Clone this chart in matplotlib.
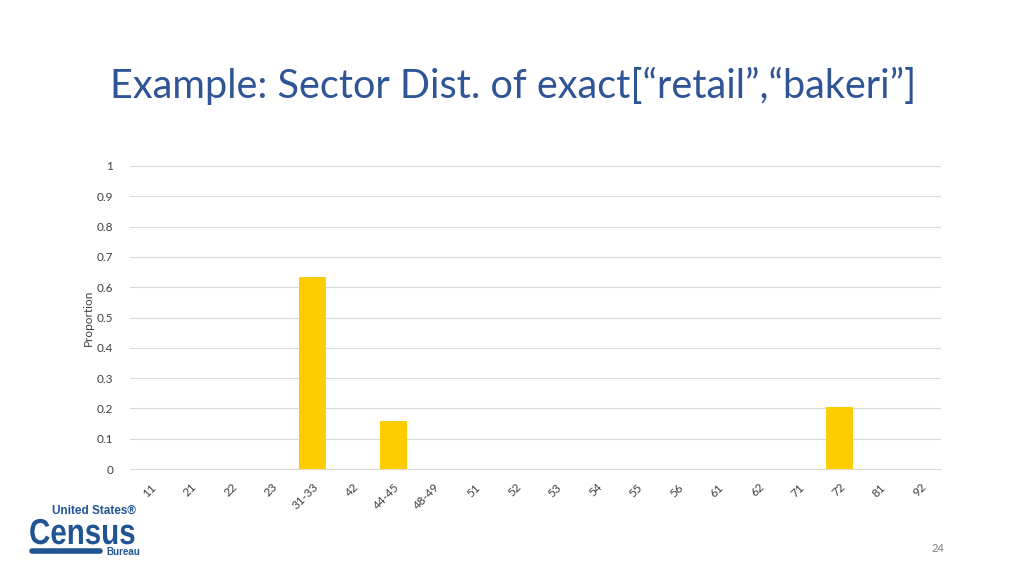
import numpy as np
import matplotlib.pyplot as plt
from matplotlib.textpath import TextPath
from matplotlib.patches import PathPatch
from matplotlib.font_manager import FontProperties
from matplotlib.transforms import Affine2D

# Datos del gráfico
sectores = ['11', '21', '22', '23', '31-33', '42', '44-45', '48-49', '51', '52',
            '53', '54', '55', '56', '61', '62', '71', '72', '81', '92']
proporcion = [0, 0, 0, 0, 0.634, 0, 0.158, 0, 0, 0,
              0, 0, 0, 0, 0, 0, 0, 0.205, 0, 0]
yticks = [0, 0.1, 0.2, 0.3, 0.4, 0.5, 0.6, 0.7, 0.8, 0.9, 1]

plt.rcParams['font.family'] = ['Lato', 'DejaVu Sans']

fig = plt.figure(figsize=(10.24, 5.76), dpi=100)
ax = fig.add_axes([130/1024, 1-469/576, 811/1024, 303/576])

x = np.arange(len(sectores))
ax.bar(x, proporcion, width=0.66, color='#FFCC00', zorder=3)
ax.set_xlim(-0.5, len(sectores)-0.5)
ax.set_ylim(0, 1)
ax.set_yticks(yticks)
ax.set_yticklabels([('%g' % v) for v in yticks], fontsize=8.5, color='#404040')
ax.set_xticks(x)
ax.set_xticklabels(sectores, rotation=45, ha='right', va='top',
                   rotation_mode='anchor', fontsize=8.5, color='#404040')
ax.tick_params(length=0, pad=9)
ax.tick_params(axis='y', pad=12)
ax.grid(axis='y', color='#D9D9D9', linewidth=0.8, zorder=0)
for s in ['top', 'right', 'left']:
    ax.spines[s].set_visible(False)
ax.spines['bottom'].set_color('#D9D9D9')
ax.set_ylabel('Proportion', fontsize=8.5, color='#404040', labelpad=2)

# Título
fig.text(110/1024, 1-86/576, 'Example: Sector Dist. of exact[\u201cretail\u201d,\u201cbakeri\u201d]',
         fontsize=28.5, color='#2F5597', va='center', ha='left')

# Número de página
fig.text(938/1024, 1-549/576, '24', fontsize=8, color='#808080', ha='center', va='center')

# Logo del Census
azul = '#205493'
fp = FontProperties(family='Liberation Sans', weight='bold')
fig.text(52/1024, 1-511/576, 'United States\u00ae', fontsize=8.5, fontweight='bold',
         color=azul, ha='left', va='center', family=['Liberation Sans', 'DejaVu Sans'])
census = TextPath((0, 0), 'Census', size=36, prop=fp)
tr = Affine2D().scale(0.82, 1.0).translate(29, 576-544).scale(1/1024, 1/576) + fig.transFigure
fig.add_artist(PathPatch(census, facecolor=azul, edgecolor='none', transform=tr))
fig.add_artist(plt.Line2D([32/1024, 100/1024], [1-551/576, 1-551/576],
                          color=azul, linewidth=4, solid_capstyle='round'))
fig.text(106/1024, 1-552/576, 'Bureau', fontsize=7, fontweight='bold',
         color=azul, ha='left', va='center', family=['Liberation Sans', 'DejaVu Sans'])

plt.savefig('out.png', dpi=100)
